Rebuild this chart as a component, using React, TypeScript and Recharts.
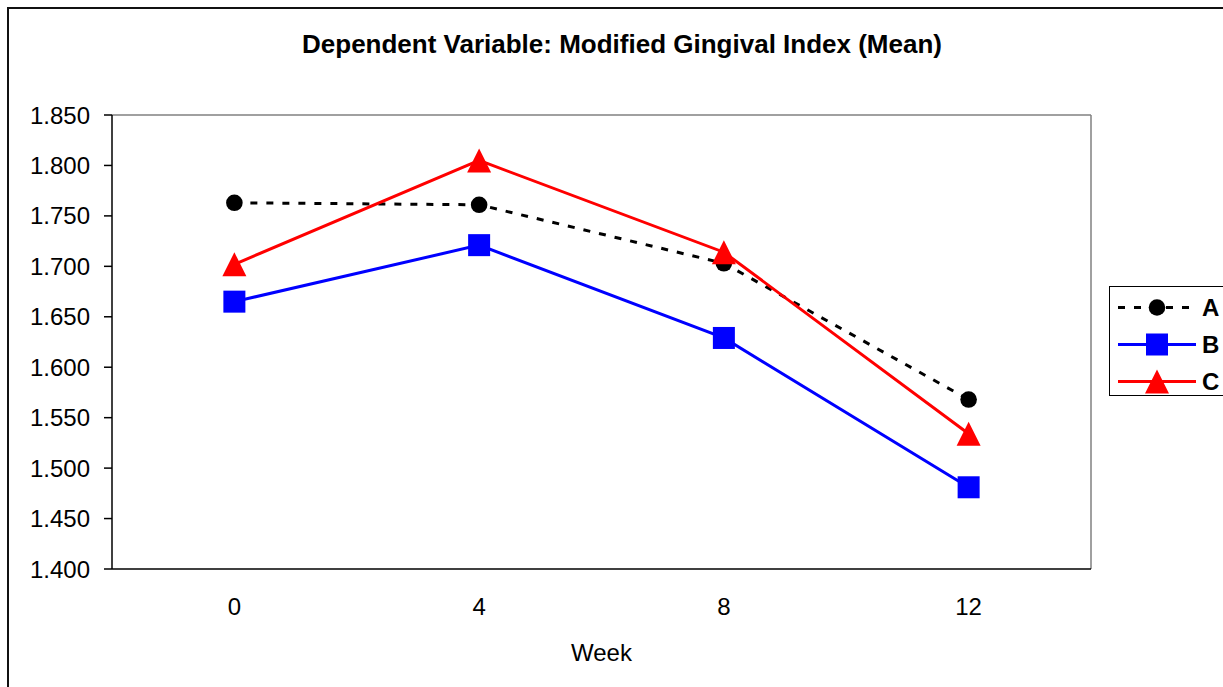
import React from 'react';
import { LineChart, Line, XAxis, YAxis, ReferenceLine, Legend } from 'recharts';

const weeks = [0, 4, 8, 12];
const seriesA = [1.763, 1.761, 1.703, 1.568];
const seriesB = [1.665, 1.721, 1.629, 1.481];
const seriesC = [1.702, 1.805, 1.714, 1.534];
const yTicks = [1.4, 1.45, 1.5, 1.55, 1.6, 1.65, 1.7, 1.75, 1.8, 1.85];
const boundaryTicks = [-2, 2, 6, 10, 14];

const data = weeks.map((w, i) => ({ week: w, A: seriesA[i], B: seriesB[i], C: seriesC[i] }));

const FONT = '"Liberation Sans", Arial, sans-serif';

// marker shapes, Excel-like
const CircleDot = (props: any) => {
    const { cx, cy } = props;
    if (cx == null || cy == null) return null;
    return <circle cx={cx} cy={cy} r={8.3} fill="#000" />;
};
const SquareDot = (props: any) => {
    const { cx, cy } = props;
    if (cx == null || cy == null) return null;
    return <rect x={cx - 11} y={cy - 11} width={22} height={22} fill="#0000ff" />;
};
const TriangleDot = (props: any) => {
    const { cx, cy } = props;
    if (cx == null || cy == null) return null;
    return <polygon points={`${cx},${cy - 12} ${cx + 12},${cy + 12} ${cx - 12},${cy + 12}`} fill="#ff0000" />;
};

const legendRows = [
    { name: 'A', color: '#000', dash: '7 9', marker: 'circle' },
    { name: 'B', color: '#0000ff', dash: undefined, marker: 'square' },
    { name: 'C', color: '#ff0000', dash: undefined, marker: 'triangle' },
];

const renderLegend = () => (
    <div style={{ border: '1.5px solid #000', width: 160, height: 110, boxSizing: 'border-box', background: '#fff', paddingTop: 2 }}>
        {legendRows.map((r) => (
            <div key={r.name} style={{ display: 'flex', alignItems: 'center', height: 37 }}>
                <svg width={92} height={37} style={{ display: 'block' }}>
                    <line x1={8} x2={86} y1={18.5} y2={18.5} stroke={r.color} strokeWidth={3} strokeDasharray={r.dash} />
                    {r.marker === 'circle' && <circle cx={47} cy={18.5} r={8.3} fill={r.color} />}
                    {r.marker === 'square' && <rect x={36} y={7.5} width={22} height={22} fill={r.color} />}
                    {r.marker === 'triangle' && <polygon points="47,6.5 59,30.5 35,30.5" fill={r.color} />}
                </svg>
                <span style={{ fontWeight: 'bold', fontSize: 24, fontFamily: FONT, color: '#000' }}>{r.name}</span>
            </div>
        ))}
    </div>
);

export default function App() {
    return (
        <div style={{ position: 'absolute', left: 0, top: 0, width: 1223, height: 687, overflow: 'hidden', background: '#fff', fontFamily: FONT }}>
            <div style={{ position: 'absolute', left: 7, top: 7, width: 1400, height: 900, border: '2px solid #111', boxSizing: 'border-box' }} />
            <div style={{ position: 'absolute', left: 622, top: 29, transform: 'translateX(-50%)', whiteSpace: 'nowrap', fontWeight: 'bold', fontSize: 26, color: '#000' }}>
                Dependent Variable: Modified Gingival Index (Mean)
            </div>
            <div style={{ position: 'absolute', left: 0, top: 0 }}>
                <LineChart width={1223} height={687} data={data} margin={{ top: 115, right: 132, left: 0, bottom: 26 }}>
                    <XAxis
                        xAxisId="grid"
                        dataKey="week"
                        type="number"
                        domain={[-2, 14]}
                        ticks={boundaryTicks}
                        allowDataOverflow
                        tick={false}
                        tickSize={8}
                        height={8}
                        axisLine={{ stroke: '#000', strokeWidth: 1.5 }}
                        tickLine={{ stroke: '#000', strokeWidth: 1.5 }}
                    />
                    <XAxis
                        xAxisId="labels"
                        dataKey="week"
                        type="number"
                        domain={[-2, 14]}
                        ticks={weeks}
                        allowDataOverflow
                        axisLine={false}
                        tickLine={false}
                        tickSize={0}
                        tickMargin={21}
                        height={84}
                        tick={{ fill: '#000', fontSize: 24, fontFamily: FONT }}
                        label={{ value: 'Week', position: 'insideBottom', offset: 0, fill: '#000', fontSize: 24, fontFamily: FONT }}
                    />
                    <YAxis
                        domain={[1.4, 1.85]}
                        ticks={yTicks}
                        allowDataOverflow
                        width={112}
                        tickSize={8}
                        tickMargin={14}
                        tickFormatter={(v: number) => v.toFixed(3)}
                        tick={{ fill: '#000', fontSize: 24, fontFamily: FONT }}
                        axisLine={{ stroke: '#000', strokeWidth: 1.5 }}
                        tickLine={{ stroke: '#000', strokeWidth: 1.5 }}
                    />
                    <ReferenceLine xAxisId="grid" y={1.85} stroke="#808080" strokeWidth={1.5} />
                    <ReferenceLine xAxisId="grid" x={14} stroke="#808080" strokeWidth={1.5} />
                    <Line xAxisId="grid" dataKey="A" stroke="#000" strokeWidth={3} strokeDasharray="7 9" dot={<CircleDot />} activeDot={false} isAnimationActive={false} />
                    <Line xAxisId="grid" dataKey="B" stroke="#0000ff" strokeWidth={3} dot={<SquareDot />} activeDot={false} isAnimationActive={false} />
                    <Line xAxisId="grid" dataKey="C" stroke="#ff0000" strokeWidth={3} dot={<TriangleDot />} activeDot={false} isAnimationActive={false} />
                    <Legend
                        layout="vertical"
                        align="center"
                        verticalAlign="middle"
                        content={renderLegend}
                        wrapperStyle={{ left: 1109, top: 286, width: 160, height: 110 }}
                    />
                </LineChart>
            </div>
        </div>
    );
}
